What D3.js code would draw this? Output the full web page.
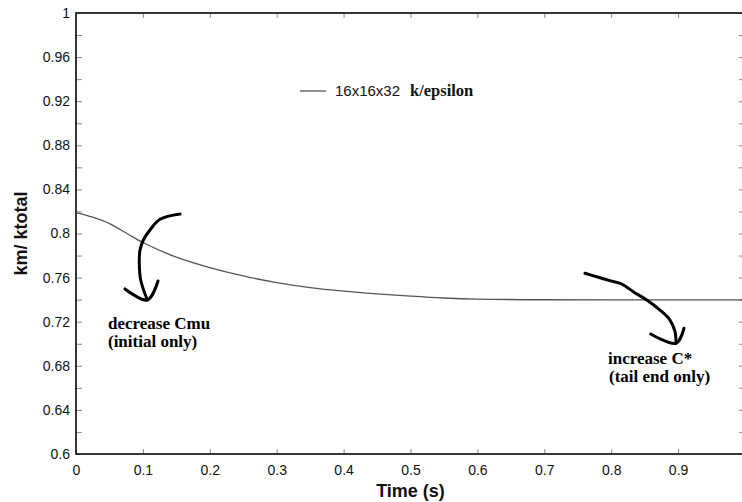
<!DOCTYPE html>
<html>
<head>
<meta charset="utf-8">
<script src="https://cdn.jsdelivr.net/npm/d3@7"></script>
<style>
  html, body { margin: 0; padding: 0; background: #fff; }
  svg { display: block; }
  .sans { font-family: "Liberation Sans", Arial, sans-serif; }
  .serif { font-family: "Liberation Serif", "Times New Roman", serif; }
</style>
</head>
<body>
<svg id="chart" width="742" height="502"></svg>
<script>
// km / ktotal ratio over time, 16x16x32 mesh, k/epsilon model
const times  = [0, 0.025, 0.05, 0.075, 0.1, 0.15, 0.2, 0.25, 0.3, 0.35, 0.4, 0.45, 0.5, 0.55, 0.6, 0.7, 0.8, 0.9, 1.0];
const ratios = [0.819, 0.8148, 0.809, 0.8005, 0.7918, 0.7785, 0.769, 0.7615, 0.7555, 0.751, 0.7478, 0.7453, 0.7432, 0.7415, 0.7405, 0.7399, 0.7398, 0.7398, 0.7398];

const seriesName = "16x16x32";
const modelName = "k/epsilon";

// Tick values
const xTicks = [0, 0.1, 0.2, 0.3, 0.4, 0.5, 0.6, 0.7, 0.8, 0.9];
const yTicks = d3.range(0, 21).map(i => +(0.6 + i * 0.02).toFixed(2));
const yLabelled = [0.6, 0.64, 0.68, 0.72, 0.76, 0.8, 0.84, 0.88, 0.92, 0.96, 1];

// Hand-drawn annotation strokes, in (time, ratio) units
const arrowInitialShaft = [[0.1555, 0.8177], [0.1256, 0.8129], [0.1106, 0.8032], [0.1006, 0.7941],
                           [0.0957, 0.7850], [0.0946, 0.7730], [0.0967, 0.7578], [0.1066, 0.7397]];
const arrowInitialHead  = [[0.0732, 0.7497], [0.1066, 0.7397], [0.1226, 0.7569]];
const arrowTailShaft    = [[0.7608, 0.7639], [0.7783, 0.7608], [0.7982, 0.7572], [0.8157, 0.7542],
                           [0.8330, 0.7472], [0.8531, 0.7397], [0.8729, 0.7306], [0.8879, 0.7215],
                           [0.8954, 0.7109], [0.8969, 0.7004]];
const arrowTailHead     = [[0.8590, 0.7088], [0.8969, 0.7004], [0.9088, 0.7140]];

const notes = [
  { t: 0.0478, v: 0.7134, text: "decrease Cmu" },
  { t: 0.0478, v: 0.6971, text: "(initial only)" },
  { t: 0.7952, v: 0.6816, text: "increase C*" },
  { t: 0.7967, v: 0.6653, text: "(tail end only)" }
];

const svg = d3.select("#chart");
const plotL = 76, plotR = 745, plotT = 13, plotB = 454;

const x = d3.scaleLinear().domain([0, 1]).range([plotL, plotR]);
const y = d3.scaleLinear().domain([0.6, 1]).range([plotB, plotT]);

const fmt = d => String(+d.toFixed(2));

// Bottom axis
const gx = svg.append("g")
  .attr("transform", `translate(0,${plotB})`)
  .call(d3.axisBottom(x).tickValues(xTicks).tickSizeInner(-5).tickSizeOuter(0).tickPadding(11).tickFormat(fmt));

// Top axis (ticks only)
const gxt = svg.append("g")
  .attr("transform", `translate(0,${plotT})`)
  .call(d3.axisTop(x).tickValues(xTicks.slice(1)).tickSizeInner(-5).tickSizeOuter(0).tickFormat(""));

// Left axis
const gy = svg.append("g")
  .attr("transform", `translate(${plotL},0)`)
  .call(d3.axisLeft(y).tickValues(yTicks).tickSizeInner(-6).tickSizeOuter(0).tickPadding(6)
    .tickFormat(d => yLabelled.some(v => Math.abs(v - d) < 1e-6) ? fmt(d) : ""));

// Right axis (ticks only)
const gyr = svg.append("g")
  .attr("transform", `translate(${plotR},0)`)
  .call(d3.axisRight(y).tickValues(yTicks).tickSizeInner(-6).tickSizeOuter(0).tickFormat(""));

[gx, gxt, gy, gyr].forEach(g => {
  g.select(".domain").remove();
  g.selectAll(".tick line").attr("stroke", "#888").attr("stroke-width", 1);
  g.selectAll("text").attr("class", "sans").attr("font-size", 14).attr("fill", "#111");
});

// Frame
svg.append("rect")
  .attr("x", plotL).attr("y", plotT)
  .attr("width", plotR - plotL).attr("height", plotB - plotT)
  .attr("fill", "none").attr("stroke", "#222").attr("stroke-width", 1.8);

// Data curve
svg.append("path")
  .datum(times.map((t, i) => [t, ratios[i]]))
  .attr("fill", "none")
  .attr("stroke", "#555")
  .attr("stroke-width", 1.3)
  .attr("d", d3.line().x(d => x(d[0])).y(d => y(d[1])).curve(d3.curveCatmullRom.alpha(0.5)));

// Legend
svg.append("line")
  .attr("x1", 300).attr("x2", 326).attr("y1", 91).attr("y2", 91)
  .attr("stroke", "#555").attr("stroke-width", 1.3);
svg.append("text").attr("class", "sans").attr("x", 335).attr("y", 96)
  .attr("font-size", 15).attr("fill", "#111").text(seriesName);
svg.append("text").attr("class", "serif").attr("x", 410).attr("y", 96)
  .attr("font-size", 16.5).attr("font-weight", "bold").attr("fill", "#111").text(modelName);

// Annotation arrows
const pen = d3.line().x(d => x(d[0])).y(d => y(d[1])).curve(d3.curveCatmullRom.alpha(0.5));
[arrowInitialShaft, arrowInitialHead, arrowTailShaft, arrowTailHead].forEach(pts => {
  svg.append("path")
    .attr("d", pen(pts))
    .attr("fill", "none")
    .attr("stroke", "#000")
    .attr("stroke-width", 3)
    .attr("stroke-linecap", "round")
    .attr("stroke-linejoin", "round");
});

// Annotation text
svg.selectAll("text.note")
  .data(notes)
  .join("text")
  .attr("class", "note serif")
  .attr("x", d => x(d.t))
  .attr("y", d => y(d.v))
  .attr("font-size", 17)
  .attr("font-weight", "bold")
  .attr("fill", "#000")
  .text(d => d.text);

// Axis titles
svg.append("text").attr("class", "sans")
  .attr("x", (plotL + plotR) / 2).attr("y", 497)
  .attr("text-anchor", "middle").attr("font-size", 18).attr("font-weight", "bold")
  .attr("fill", "#111").text("Time (s)");
svg.append("text").attr("class", "sans")
  .attr("transform", `translate(27,${(plotT + plotB) / 2}) rotate(-90)`)
  .attr("text-anchor", "middle").attr("font-size", 18).attr("font-weight", "bold")
  .attr("fill", "#111").text("km/ ktotal");
</script>
</body>
</html>
